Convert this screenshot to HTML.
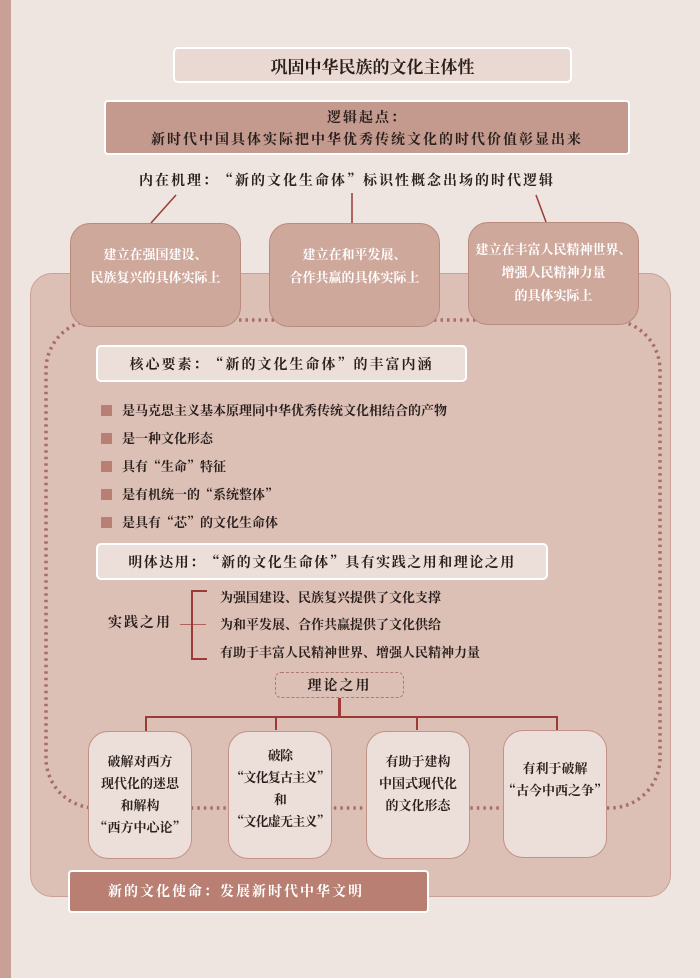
<!DOCTYPE html>
<html><head><meta charset="utf-8"><style>
*{margin:0;padding:0;box-sizing:border-box}
body{width:700px;height:978px;background:#efe5e0;position:relative;overflow:hidden;font-family:"Noto Serif CJK SC","Liberation Serif",serif;color:#2a1f1c}
.a{position:absolute}
.c{display:flex;align-items:center;justify-content:center;text-align:center}
.top{background:#cfa89c;border:1.5px solid #b98a7e;border-radius:20px;color:#fff;font-size:13px;line-height:23px;font-weight:bold;padding-bottom:20px}
.bot{background:#ecdfd9;border:1.5px solid #c09386;border-radius:20px;font-size:13px;line-height:22px;font-weight:bold;align-items:flex-start;padding-top:18px;white-space:nowrap}
.wb{background:#ecdfd9;border:2px solid #fff;border-radius:5px;font-weight:bold}
.bl{position:absolute;left:101px;width:11px;height:11px;background:#b97f72}
.bt{position:absolute;left:122px;font-size:13px;font-weight:bold;line-height:18px}
.ln{position:absolute;background:#9c3a36}
</style></head><body>
<div class="a" style="left:0;top:0;width:11px;height:978px;background:#c9a096"></div>
<div class="a c wb" style="left:173px;top:47px;width:399px;height:36px;background:#ead9d2;font-size:17px">巩固中华民族的文化主体性</div>
<div class="a c" style="left:104px;top:100px;width:526px;height:55px;background:#c49a8e;border:2px solid #fff;border-radius:4px;flex-direction:column;font-weight:bold;font-size:14px;letter-spacing:2px;line-height:22px"><div>逻辑起点：</div><div>新时代中国具体实际把中华优秀传统文化的时代价值彰显出来</div></div>
<div class="a c" style="left:82px;top:168px;width:530px;height:24px;font-weight:bold;font-size:14px;letter-spacing:2px">内在机理：“新的文化生命体”标识性概念出场的时代逻辑</div>
<svg class="a" style="left:0;top:0" width="700" height="978">
<line x1="176" y1="195" x2="151" y2="223" stroke="#9c3a36" stroke-width="1.5"/>
<line x1="352" y1="193" x2="352" y2="223" stroke="#9c3a36" stroke-width="1.5"/>
<line x1="536" y1="195" x2="546" y2="222" stroke="#9c3a36" stroke-width="1.5"/>
</svg>
<div class="a" style="left:30px;top:273px;width:641px;height:624px;background:#dcc0b6;border:1.5px solid #c9a196;border-radius:22px"></div>
<svg class="a" style="left:0;top:0" width="700" height="978">
<rect x="46" y="320" width="614" height="488" rx="50" fill="none" stroke="#a86e66" stroke-width="3.5" stroke-dasharray="2.5 4"/>
</svg>
<div class="a c top" style="left:70px;top:223px;width:171px;height:104px">建立在强国建设、<br>民族复兴的具体实际上</div>
<div class="a c top" style="left:269px;top:223px;width:171px;height:104px">建立在和平发展、<br>合作共赢的具体实际上</div>
<div class="a c top" style="left:468px;top:222px;width:171px;height:103px;padding-bottom:4px">建立在丰富人民精神世界、<br>增强人民精神力量<br>的具体实际上</div>
<div class="a c wb" style="left:96px;top:345px;width:371px;height:37px;font-size:14px;letter-spacing:2px">核心要素：“新的文化生命体”的丰富内涵</div>
<div class="bl" style="top:405px"></div><div class="bt" style="top:401px">是马克思主义基本原理同中华优秀传统文化相结合的产物</div>
<div class="bl" style="top:433px"></div><div class="bt" style="top:429px">是一种文化形态</div>
<div class="bl" style="top:461px"></div><div class="bt" style="top:457px">具有“生命”特征</div>
<div class="bl" style="top:489px"></div><div class="bt" style="top:485px">是有机统一的“系统整体”</div>
<div class="bl" style="top:517px"></div><div class="bt" style="top:513px">是具有“芯”的文化生命体</div>
<div class="a c wb" style="left:96px;top:543px;width:452px;height:37px;font-size:14px;letter-spacing:1.5px">明体达用：“新的文化生命体”具有实践之用和理论之用</div>
<div class="a" style="left:108px;top:612px;font-size:14px;font-weight:bold;letter-spacing:2px;line-height:20px">实践之用</div>
<div class="ln" style="left:191px;top:590px;width:2px;height:69px"></div>
<div class="ln" style="left:191px;top:590px;width:16px;height:1.5px"></div>
<div class="ln" style="left:191px;top:658px;width:16px;height:1.5px"></div>
<div class="ln" style="left:180px;top:624px;width:26px;height:1px;opacity:.7"></div>
<div class="bt" style="left:220px;top:588px">为强国建设、民族复兴提供了文化支撑</div>
<div class="bt" style="left:220px;top:615px">为和平发展、合作共赢提供了文化供给</div>
<div class="bt" style="left:220px;top:643px">有助于丰富人民精神世界、增强人民精神力量</div>
<div class="a c" style="left:275px;top:672px;width:129px;height:26px;border:1.5px dashed #b07a72;border-radius:6px;font-weight:bold;font-size:14px;letter-spacing:2px">理论之用</div>
<div class="ln" style="left:338px;top:698px;width:2.5px;height:20px"></div>
<div class="ln" style="left:145px;top:716px;width:413px;height:2px"></div>
<div class="ln" style="left:145px;top:716px;width:2px;height:24px"></div>
<div class="ln" style="left:275px;top:716px;width:2px;height:14px"></div>
<div class="ln" style="left:416px;top:716px;width:2px;height:14px"></div>
<div class="ln" style="left:556px;top:716px;width:2px;height:14px"></div>
<div class="a c bot" style="left:88px;top:731px;width:104px;height:128px">破解对西方<br>现代化的迷思<br>和解构<br>“西方中心论”</div>
<div class="a c bot" style="left:228px;top:731px;width:104px;height:128px;padding-top:12px;letter-spacing:-0.8px">破除<br>“文化复古主义”<br>和<br>“文化虚无主义”</div>
<div class="a c bot" style="left:366px;top:731px;width:104px;height:128px">有助于建构<br>中国式现代化<br>的文化形态</div>
<div class="a c bot" style="left:503px;top:730px;width:104px;height:128px;padding-top:26px">有利于破解<br>“古今中西之争”</div>
<div class="a" style="left:68px;top:870px;width:361px;height:43px;background:#b97f72;border:2px solid #fff;border-radius:4px;color:#fff;font-weight:bold;font-size:14px;letter-spacing:2px;line-height:39px;padding-left:38px">新的文化使命：发展新时代中华文明</div>
</body></html>
